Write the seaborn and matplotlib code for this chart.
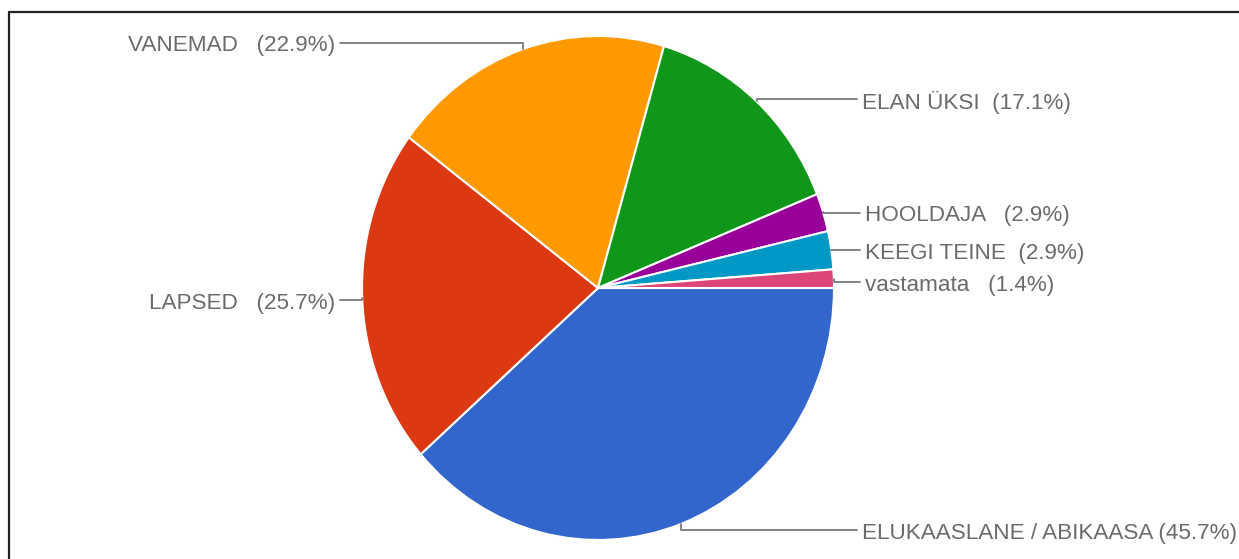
import numpy as np
import matplotlib
matplotlib.use("Agg")
import matplotlib.pyplot as plt
from matplotlib.lines import Line2D
import seaborn as sns

# Data (multiple choice answers, shares of respondents)
categories = ["ELUKAASLANE / ABIKAASA", "LAPSED", "VANEMAD", "ELAN ÜKSI",
              "HOOLDAJA", "KEEGI TEINE", "vastamata"]
percents = [45.7, 25.7, 22.9, 17.1, 2.9, 2.9, 1.4]
pct_labels = ["(45.7%)", "(25.7%)", "(22.9%)", "(17.1%)", "(2.9%)", "(2.9%)", "(1.4%)"]
gaps = [" ", "   ", "   ", "  ", "   ", "  ", "   "]
colors = ["#3366cc", "#dc3912", "#ff9900", "#109618", "#990099", "#0099c6", "#dd4477"]

sns.set_theme(style="white")
plt.rcParams['font.family'] = ['Liberation Sans', 'DejaVu Sans']

W, H = 1239, 559
fig = plt.figure(figsize=(W / 100, H / 100), dpi=100)

# pie centre and radii in pixels (the original is slightly squashed)
cx, cy, rx, ry = 598, 288, 236, 252
ax = fig.add_axes([(cx - rx) / W, (H - cy - ry) / H, 2 * rx / W, 2 * ry / H])

wedges, _ = ax.pie(percents, colors=sns.color_palette(colors), startangle=0,
                   counterclock=False, radius=1,
                   wedgeprops=dict(edgecolor="white", linewidth=1.5))
ax.set_aspect("auto")
ax.set_xlim(-1, 1)
ax.set_ylim(-1, 1)
ax.axis("off")

def px2d(px, py):
    return (px - cx) / rx, (cy - py) / ry

# label anchor (pixel layout): x of text edge, y of leader line, side
label_pos = [(862, 530, "right"), (335, 300, "left"), (335, 43, "left"),
             (862, 99, "right"), (865, 213, "right"), (865, 250, "right"),
             (865, 282, "right")]

txt_color = "#6b6b6b"
line_color = "#7a7a7a"
for w, cat, gap, pl, (lx, ly, side) in zip(wedges, categories, gaps, pct_labels, label_pos):
    mid = np.deg2rad((w.theta1 + w.theta2) / 2)
    ex, ey = np.cos(mid), np.sin(mid)
    tx, ty = px2d(lx, ly)
    if side == "right":
        end_x = tx - 5 / rx
        ha = "left"
    else:
        end_x = tx + 5 / rx
        ha = "right"
    ax.add_line(Line2D([ex, ex, end_x], [ey, ty, ty], color=line_color,
                       linewidth=1.3, clip_on=False))
    ax.text(tx, ty - 3 / ry, cat + gap + pl, ha=ha, va="center",
            fontsize=16.2, color=txt_color, clip_on=False)

# frame of the screenshot
fx, fy = 9 / W, 1 - 12 / H
fig.add_artist(Line2D([fx, fx], [0, fy], color="#222222", linewidth=1.6,
                      transform=fig.transFigure))
fig.add_artist(Line2D([fx, 1], [fy, fy], color="#222222", linewidth=1.6,
                      transform=fig.transFigure))

fig.savefig("out.png", dpi=100)
